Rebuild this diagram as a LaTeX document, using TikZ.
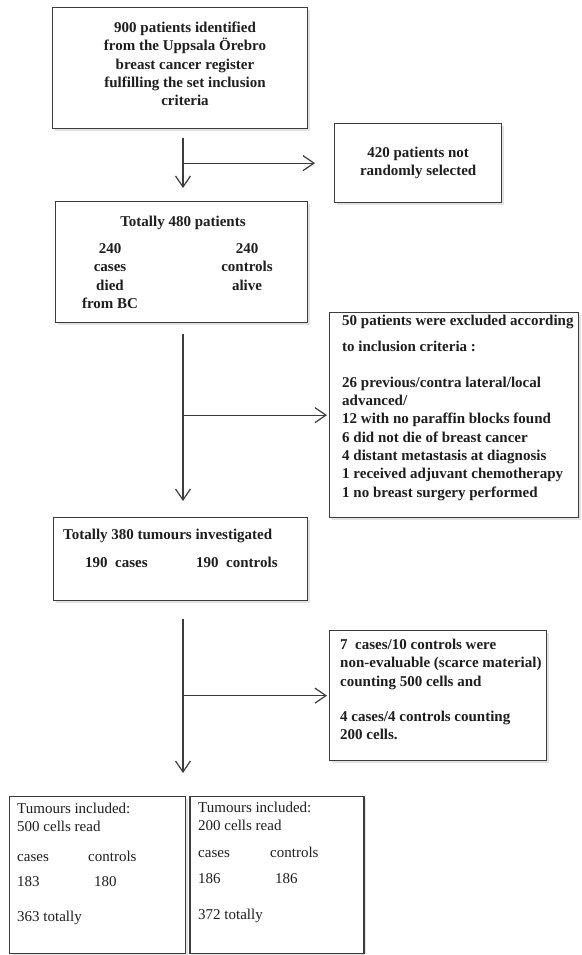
\documentclass[tikz,border=0pt]{standalone}
\usepackage{fontspec}
\setmainfont{Liberation Serif}
\usepackage{xcolor}
\usepackage{tikz}
\usetikzlibrary{arrows.meta,shadows,positioning,calc}

\definecolor{linegray}{HTML}{3C3C3C}
\definecolor{inkgray}{HTML}{1E1E1E}

\begin{document}
\begin{tikzpicture}[
    x=1pt, y=-1pt,
    frame/.style={
      rectangle,
      draw=linegray,
      line width=1.3pt,
      fill=white,
      anchor=north west,
      inner sep=0pt,
      drop shadow={shadow xshift=2.5pt, shadow yshift=-2.5pt, opacity=0.22}
    },
    boldtxt/.style={
      font=\fontsize{15}{18.3}\selectfont\bfseries,
      text=inkgray,
      inner sep=0pt
    },
    plaintxt/.style={
      font=\fontsize{15}{18}\selectfont,
      text=inkgray,
      inner sep=0pt
    },
    flow/.style={
      draw=linegray,
      line width=1.2pt,
      -{Straight Barb[length=11pt,width=15pt]}
    }
  ]

    \useasboundingbox (0,0) rectangle (581,955);

    % Register selection
    \node[frame, minimum width=255pt, minimum height=121pt] (reg) at (52,7) {};
    \node[boldtxt, align=center] (regtxt) at (185,64) {
      900 patients identified\\
      from the Uppsala Örebro\\
      breast cancer register\\
      fulfilling the set inclusion\\
      criteria
    };

    \node[frame, boldtxt, align=center, minimum width=167pt, minimum height=79pt] (notsel) at (334,123) {
      420 patients not\\
      randomly selected
    };

    % Cases and controls
    \node[frame, minimum width=252pt, minimum height=121pt] (tot480) at (55,201) {};
    \node[boldtxt, anchor=base] (tot480head) at (183,226) {Totally 480 patients};
    \node[boldtxt, align=center] (casecol) at (110,276) {240\\cases\\died\\from BC};
    \node[boldtxt, align=center] (ctrlcol) at (247,267) {240\\controls\\alive};

    % Exclusions
    \node[frame, minimum width=249pt, minimum height=205pt] (excl) at (329,312) {};
    \node[boldtxt, align=left, anchor=north west] (excltxt) at (342,315) {
      50 patients were excluded according\\[8pt]
      to inclusion criteria :\\[17pt]
      26 previous/contra lateral/local\\
      advanced/\\
      12 with no paraffin blocks found\\
      6 did not die of breast cancer\\
      4 distant metastasis at diagnosis\\
      1 received adjuvant chemotherapy\\
      1 no breast surgery performed
    };

    % Tumours investigated
    \node[frame, minimum width=254pt, minimum height=83pt] (tot380) at (53,517) {};
    \node[boldtxt, anchor=base west] (tot380head) at (63,539) {Totally 380 tumours investigated};
    \node[boldtxt, anchor=base west] (tot380case) at (85,567) {190\enspace cases};
    \node[boldtxt, anchor=base west] (tot380ctrl) at (196,567) {190\enspace controls};

    \node[frame, minimum width=217pt, minimum height=130pt] (eval) at (329,630) {};
    \node[boldtxt, align=left, anchor=north west] (evaltxt) at (340,639) {
      7\enspace cases/10 controls were\\
      non-evaluable (scarce material)\\
      counting 500 cells and\\[17pt]
      4 cases/4 controls counting\\
      200 cells.
    };

    % Tumours included
    \node[frame, minimum width=176pt, minimum height=157pt] (inc500) at (9,796) {};
    \node[plaintxt, align=left, anchor=north west] (inc500head) at (17,803) {Tumours included:\\500 cells read};
    \node[plaintxt, anchor=base west] (inc500case) at (17,861.5) {cases};
    \node[plaintxt, anchor=base west] (inc500ctrl) at (88,861.5) {controls};
    \node[plaintxt, anchor=base west] (inc500ncase) at (17,886.5) {183};
    \node[plaintxt, anchor=base west] (inc500nctrl) at (94,886.5) {180};
    \node[plaintxt, anchor=base west] (inc500sum) at (17,921.5) {363 totally};

    \node[frame, minimum width=174pt, minimum height=157pt, right=3pt of inc500.north east, anchor=north west] (inc200) {};
    \node[plaintxt, align=left, anchor=north west] (inc200head) at (198,802) {Tumours included:\\200 cells read};
    \node[plaintxt, anchor=base west] (inc200case) at (198,857.5) {cases};
    \node[plaintxt, anchor=base west] (inc200ctrl) at (270,857.5) {controls};
    \node[plaintxt, anchor=base west] (inc200ncase) at (198,883.5) {186};
    \node[plaintxt, anchor=base west] (inc200nctrl) at (275,883.5) {186};
    \node[plaintxt, anchor=base west] (inc200sum) at (198,919.5) {372 totally};

    % Flow arrows
    \coordinate (stem) at (183,0);
    \draw[flow, shorten <=9pt, shorten >=13pt] (reg.south -| stem) -- (tot480.north -| stem);
    \draw[flow, shorten >=19pt] (stem |- notsel.west) -- (notsel.west);

    \draw[flow, shorten <=11pt, shorten >=16pt] (tot480.south -| stem) -- (tot380.north -| stem);
    \draw[flow, shorten >=2pt] (stem |- excl.west) -- (excl.west);

    \draw[flow, shorten <=18pt, shorten >=23pt] (tot380.south -| stem) -- (inc500.north -| stem);
    \draw[flow, shorten >=2pt] (stem |- eval.west) -- (eval.west);

  \end{tikzpicture}
\end{document}
